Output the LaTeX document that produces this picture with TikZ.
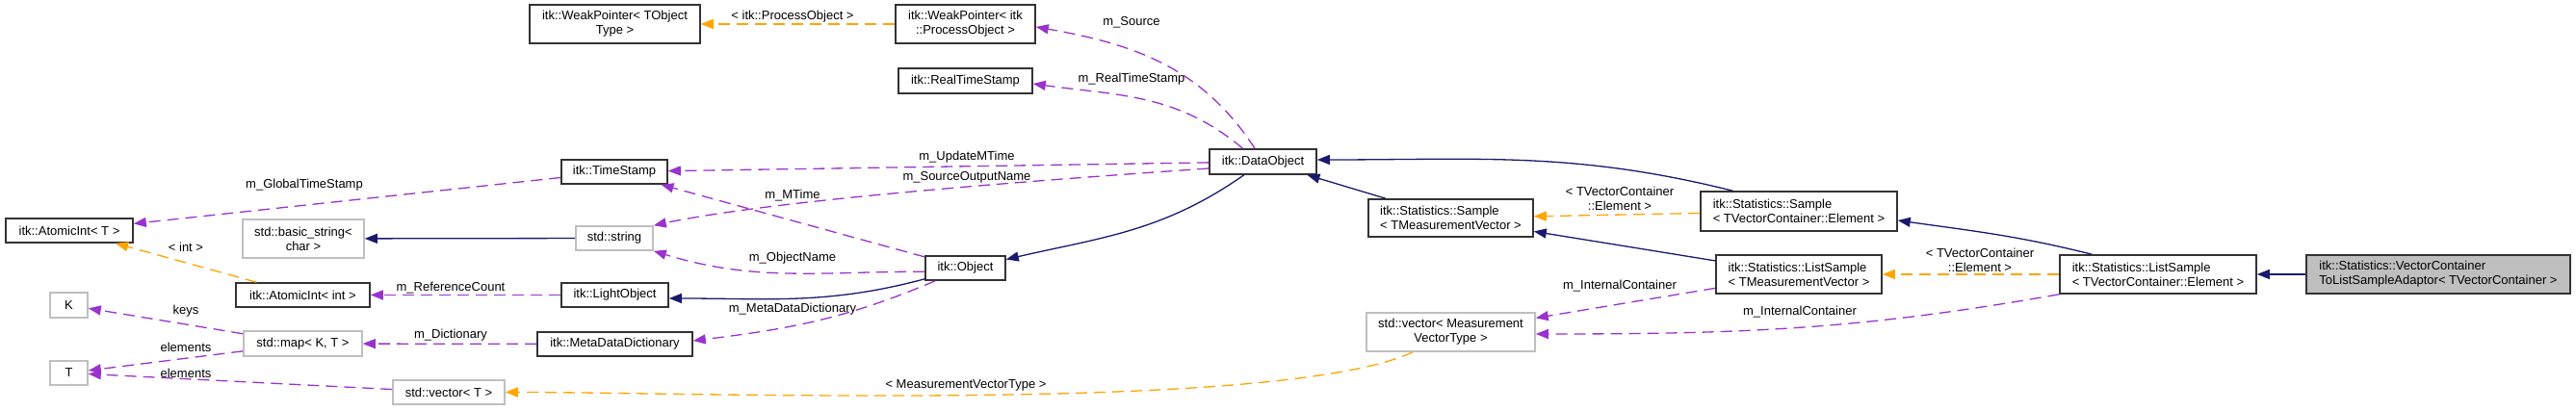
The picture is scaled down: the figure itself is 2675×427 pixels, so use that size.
\documentclass[tikz,border=0pt]{standalone}
\usepackage{fontspec}
\setmainfont{Liberation Sans}
\usetikzlibrary{arrows.meta}
\definecolor{DoxNavy}{RGB}{25,25,112}
\definecolor{DoxOrchid}{RGB}{154,50,205}
\definecolor{DoxOrange}{RGB}{255,165,0}
\definecolor{DoxGray}{RGB}{191,191,191}

\begin{document}
\begin{tikzpicture}[x=1pt,y=1pt,font=\fontsize{13}{15}\selectfont,
  cls/.style={draw=black!80,line width=1.6pt,inner sep=0pt,align=center,minimum height=25pt},
  ext/.style={cls,draw=DoxGray},
  lbl/.style={inner sep=0pt,align=center},
  inh/.style={draw=DoxNavy,line width=1.3pt,-{Triangle[length=13pt,width=10pt]}},
  usage/.style={draw=DoxOrchid,line width=1.3pt,dash pattern=on 12pt off 7pt,-{Triangle[length=13pt,width=10pt]}},
  tmpl/.style={usage,draw=DoxOrange}]
\useasboundingbox (0,0) rectangle (2675,427);
% classes
\node[cls,minimum width=132pt] (atomT) at (72,187.5) {itk::AtomicInt< T >};
\node[ext,minimum width=126pt,minimum height=40pt] (bstr) at (315,179) {std::basic\_string<\\char >};
\node[cls,minimum width=139pt] (atomInt) at (314.5,120.5) {itk::AtomicInt< int >};
\node[ext,minimum width=39pt,minimum height=26pt] (K) at (71.5,110) {K};
\node[ext,minimum width=123pt,minimum height=26pt] (mapKT) at (314.5,70) {std::map< K, T >};
\node[ext,minimum width=39pt] (T) at (71.5,39.5) {T};
\node[ext,minimum width=116pt] (vecT) at (466,19.5) {std::vector< T >};
\node[cls,minimum width=177pt,minimum height=40pt] (wpT) at (638.5,402) {itk::WeakPointer< TObject\\Type >};
\node[cls,minimum width=110pt] (tstamp) at (638,248.5) {itk::TimeStamp};
\node[ext,minimum width=80pt] (str) at (638,179.5) {std::string};
\node[cls,minimum width=111pt] (light) at (638.5,120.5) {itk::LightObject};
\node[cls,minimum width=161pt] (mdd) at (638.5,69.5) {itk::MetaDataDictionary};
\node[cls,minimum width=145pt,minimum height=40pt] (wpPO) at (1002.5,402) {itk::WeakPointer< itk\\::ProcessObject >};
\node[cls,minimum width=139pt,minimum height=26pt] (rts) at (1002.5,343) {itk::RealTimeStamp};
\node[cls,minimum width=111pt,minimum height=26pt] (dobj) at (1311.5,259) {itk::DataObject};
\node[cls,minimum width=83pt] (obj) at (1002.5,148.5) {itk::Object};
\node[cls,align=left,minimum width=171pt,minimum height=39pt] (smpTMV) at (1506.5,200.5) {itk::Statistics::Sample\\< TMeasurementVector >};
\node[ext,minimum width=175pt,minimum height=40pt] (vecMVT) at (1506.5,82) {std::vector< Measurement\\VectorType >};
\node[cls,align=left,minimum width=204pt,minimum height=41pt] (smpTVC) at (1868,207.5) {itk::Statistics::Sample\\< TVectorContainer::Element >};
\node[cls,align=left,minimum width=172pt,minimum height=40pt] (lsTMV) at (1868,142) {itk::Statistics::ListSample\\< TMeasurementVector >};
\node[cls,align=left,minimum width=204pt,minimum height=40pt] (lsTVC) at (2241,142) {itk::Statistics::ListSample\\< TVectorContainer::Element >};
\node[cls,align=left,fill=DoxGray,minimum width=274pt,minimum height=40pt] (adaptor) at (2532,142) {itk::Statistics::VectorContainer\\ToListSampleAdaptor< TVectorContainer >};
% inheritance
\draw[inh] (adaptor) -- (lsTVC);
\draw[inh] ([xshift=34pt]lsTVC.north west) to[out=166,in=-8] ([yshift=-9.5pt]smpTVC.east);
\draw[inh] (lsTMV) -- (smpTMV);
\draw[inh] ([xshift=34pt]smpTVC.north west) to[out=166,in=0] ([yshift=2pt]dobj.east);
\draw[inh] (smpTMV) -- (dobj);
\draw[inh] (dobj.215) to[out=215,in=13] (obj.12);
\draw[inh] (obj.195) to[out=195,in=0] ([yshift=-3.5pt]light.east);
\draw[inh] (str) -- (bstr);
% templates
\draw[tmpl] (lsTVC) -- (lsTMV) node[lbl] (lElemLow) at (2056,157) {< TVectorContainer\\::Element >};
\draw[tmpl] (smpTVC) -- (smpTMV) node[lbl] (lElemUp) at (1682,221) {< TVectorContainer\\::Element >};
\draw[tmpl] ([xshift=-39.5pt]vecMVT.south) .. controls +(205:150) and +(0:200) .. (vecT.east) node[lbl] (lMVT) at (1003,27) {< MeasurementVectorType >};
\draw[tmpl] (wpPO) -- (wpT) node[lbl] (lProcObj) at (823,410) {< itk::ProcessObject >};
\draw[tmpl] (atomInt) -- (atomT) node[lbl] (lInt) at (193,170) {< int >};
% members
\draw[usage] (lsTVC.south west) to[out=190,in=0] ([yshift=-2pt]vecMVT.east) node[lbl] (lIntCont2) at (1869,103) {m\_InternalContainer};
\draw[usage] (lsTMV) -- (vecMVT) node[lbl] (lIntCont1) at (1682,130) {m\_InternalContainer};
\draw[usage] ([xshift=-8.5pt]dobj.north) to[out=123,in=-10] ([yshift=-3pt]wpPO.east) node[lbl] (lSource) at (1175,404) {m\_Source};
\draw[usage] ([xshift=-21pt]dobj.north) to[out=140,in=-8] ([yshift=-3pt]rts.east) node[lbl] (lRTS) at (1175,345) {m\_RealTimeStamp};
\draw[usage] (dobj) -- (tstamp) node[lbl] (lUpdate) at (1004,264) {m\_UpdateMTime};
\draw[usage] ([yshift=-7pt]dobj.west) to[out=184,in=12,looseness=0.6] (str.north east) node[lbl] (lSrcOut) at (1004,243) {m\_SourceOutputName};
\draw[usage] (obj) -- (tstamp) node[lbl] (lMTime) at (823,224) {m\_MTime};
\draw[usage] (obj.185) to[out=180,in=-17] (str.south east) node[lbl] (lObjName) at (823,159) {m\_ObjectName};
\draw[usage] ([xshift=11pt]obj.south west) to[out=203,in=7] ([yshift=3.5pt]mdd.east) node[lbl] (lMDD) at (823,106) {m\_MetaDataDictionary};
\draw[usage] (light) -- (atomInt) node[lbl] (lRefCount) at (468,128) {m\_ReferenceCount};
\draw[usage] (tstamp) -- (atomT) node[lbl] (lGlobal) at (316,235) {m\_GlobalTimeStamp};
\draw[usage] (mdd) -- (mapKT) node[lbl] (lDict) at (468,79) {m\_Dictionary};
\draw[usage] (mapKT) -- (K) node[lbl] (lKeys) at (193,104) {keys};
\draw[usage] (mapKT) -- (T) node[lbl] (lElemMap) at (193,66) {elements};
\draw[usage] (vecT) -- (T) node[lbl] (lElemVec) at (193,39) {elements};
\end{tikzpicture}
\end{document}
